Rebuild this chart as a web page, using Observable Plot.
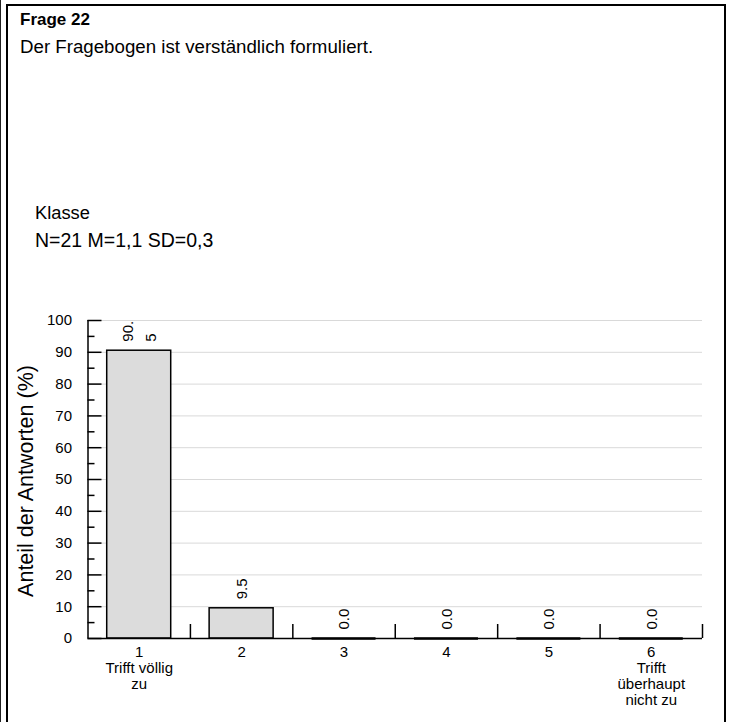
<!DOCTYPE html>
<html>
<head>
<meta charset="utf-8">
<script src="https://cdn.jsdelivr.net/npm/d3@7"></script>
<script src="https://cdn.jsdelivr.net/npm/@observablehq/plot@0.6"></script>
<style>
  html, body { margin: 0; padding: 0; background: white; }
  #wrap { position: relative; width: 732px; height: 722px; overflow: hidden; background: white;
          font-family: 'Liberation Sans', Arial, sans-serif; color: black; }
  #edge { position: absolute; left: 0; top: 0; width: 1px; height: 722px; background: #222; }
  #box { position: absolute; left: 6px; top: 4px; width: 716px; height: 800px;
         border: 2px solid black; border-bottom: none; }
  .t { position: absolute; white-space: nowrap; line-height: 1; }
  #chart { position: absolute; left: 0; top: 0; }
  #ytitle { position: absolute; left: 27px; top: 481px; font-size: 21.5px; line-height: 1;
            white-space: nowrap; transform: translate(-50%, -50%) rotate(-90deg); }
</style>
</head>
<body>
<div id="wrap">
  <div id="edge"></div>
  <div id="box"></div>
  <div id="chart"></div>
  <div class="t" style="left:20px; top:11px; font-size:17px; font-weight:bold;">Frage 22</div>
  <div class="t" style="left:20px; top:38px; font-size:18.7px;">Der Fragebogen ist verständlich formuliert.</div>
  <div class="t" style="left:35px; top:204px; font-size:18.3px;">Klasse</div>
  <div class="t" style="left:35px; top:231px; font-size:19.5px;">N=21 M=1,1 SD=0,3</div>
  <div id="ytitle">Anteil der Antworten (%)</div>
</div>
<script>
// ---- data ----
const categories = [1, 2, 3, 4, 5, 6];
const values = [90.5, 9.5, 0.0, 0.0, 0.0, 0.0];
const valueLabels = ["90.\n5", "9.5", "0.0", "0.0", "0.0", "0.0"];
const xTickLabels = ["1\nTrifft völlig\nzu", "2", "3", "4", "5", "6\nTrifft\nüberhaupt\nnicht zu"];
const yMajorTicks = [0, 10, 20, 30, 40, 50, 60, 70, 80, 90, 100];
const yMinorTicks = [5, 15, 25, 35, 45, 55, 65, 75, 85, 95];
const yGridTicks = [10, 20, 30, 40, 50, 60, 70, 80, 90, 100];

const data = categories.map((c, i) => ({cat: c, value: values[i], label: valueLabels[i]}));

const W = 732, H = 722, mL = 87.5, mR = 30, mT = 320, mB = 84;
const innerW = W - mL - mR;
const step = innerW / categories.length;
const barInset = (step - 64) / 2;

const chart = Plot.plot({
  width: W,
  height: H,
  marginLeft: mL,
  marginRight: mR,
  marginTop: mT,
  marginBottom: mB,
  style: {fontFamily: "'Liberation Sans', Arial, sans-serif", fontSize: "15px", color: "black", background: "transparent"},
  x: {type: "linear", domain: [0.5, 6.5]},
  y: {domain: [0, 100]},
  marks: [
    Plot.ruleY(yGridTicks, {stroke: "#d9d9d9", strokeWidth: 1}),
    Plot.rectY(data.filter(d => d.value > 0), {
      x1: d => d.cat - 0.5, x2: d => d.cat + 0.5, y: "value",
      insetLeft: barInset, insetRight: barInset,
      fill: "#dcdcdc", stroke: "black", strokeWidth: 1.5
    }),
    Plot.ruleY(data.filter(d => d.value === 0), {
      y: "value", x1: d => d.cat - 0.5, x2: d => d.cat + 0.5,
      insetLeft: barInset, insetRight: barInset, stroke: "black", strokeWidth: 2.5
    }),
    Plot.ruleY([0], {stroke: "black", strokeWidth: 1.5}),
    Plot.ruleX([0.5], {stroke: "black", strokeWidth: 1.5}),
    Plot.ruleY(yMajorTicks, {stroke: "black", strokeWidth: 1.5, insetRight: innerW - 14}),
    Plot.ruleY(yMinorTicks, {stroke: "black", strokeWidth: 1.5, insetRight: innerW - 7}),
    Plot.ruleX(categories, {x: d => d + 0.5, y1: 0, y2: 4.4, stroke: "black", strokeWidth: 1.5}),
    Plot.text(data, {
      x: "cat", y: "value", text: "label", rotate: -90,
      textAnchor: "start", lineAnchor: "middle", lineHeight: 1.55,
      dy: -9, dx: -2, fontSize: 15, fill: "black"
    }),
    Plot.axisY({ticks: yMajorTicks, tickSize: 0, tickPadding: 16, fontSize: 15, label: null}),
    Plot.axisX({ticks: categories, tickSize: 0, tickPadding: 7, fontSize: 15, lineHeight: 1.07,
      tickFormat: d => xTickLabels[categories.indexOf(d)], label: null})
  ]
});
document.getElementById("chart").appendChild(chart);
</script>
</body>
</html>
